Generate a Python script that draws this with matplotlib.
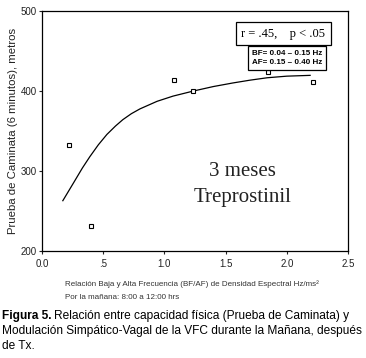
import matplotlib
matplotlib.use('Agg')
import matplotlib.pyplot as plt

# puntos medidos (BF/AF vs prueba de caminata)
bf_af = [0.22, 0.40, 1.08, 1.23, 1.85, 2.21]
caminata = [333, 231, 414, 400, 424, 412]

# curva de ajuste
curva_x = [0.17, 0.26, 0.33, 0.39, 0.46, 0.53, 0.60, 0.66, 0.73, 0.80, 0.94,
           1.07, 1.24, 1.40, 1.56, 1.70, 1.84, 2.00, 2.19]
curva_y = [263, 286, 304, 318, 333, 346, 356.5, 364.5, 372, 378, 387.5,
           394, 400.5, 406, 410.5, 414, 417, 419, 420]

xticks = [0.0, 0.5, 1.0, 1.5, 2.0, 2.5]
xticklabels = ['0.0', '.5', '1.0', '1.5', '2.0', '2.5']
yticks = [200, 300, 400, 500]

plt.rcParams['font.family'] = ['Liberation Sans', 'DejaVu Sans']

fig = plt.figure(figsize=(3.66, 3.58), dpi=100)
ax = fig.add_axes([0.1148, 0.2989, 0.8362, 0.6690])

ax.plot(curva_x, curva_y, color='black', linewidth=0.9)
ax.plot(bf_af, caminata, linestyle='none', marker='s', markersize=3,
        markerfacecolor='white', markeredgecolor='black', markeredgewidth=0.8)

ax.set_xlim(0, 2.5)
ax.set_ylim(200, 500)
ax.set_xticks(xticks)
ax.set_xticklabels(xticklabels)
ax.set_yticks(yticks)
ax.tick_params(axis='both', labelsize=7, length=2, width=0.8, pad=2, colors='#222222')
ax.tick_params(axis='x', pad=4)
for s in ax.spines.values():
    s.set_linewidth(0.9)

ax.set_ylabel('Prueba de Caminata (6 minutos), metros', fontsize=8.2, labelpad=2,
              color='#222222')

# textos dentro del grafico
ax.text(1.64, 299, '3 meses', fontsize=15, family='Liberation Serif',
        ha='center', va='center', color='#222222')
ax.text(1.64, 267, 'Treprostinil', fontsize=15, family='Liberation Serif',
        ha='center', va='center', color='#222222')

ax.text(1.97, 472, 'r = .45,    p < .05', fontsize=9, family='Liberation Serif',
        ha='center', va='center',
        bbox=dict(boxstyle='square,pad=0.45', facecolor='white', edgecolor='black', linewidth=0.9))
ax.text(2.0, 442, 'BF= 0.04 \u2013 0.15 Hz\nAF= 0.15 \u2013 0.40 Hz', fontsize=5.8,
        fontweight='bold', ha='center', va='center', linespacing=1.3,
        bbox=dict(boxstyle='square,pad=0.5', facecolor='white', edgecolor='black', linewidth=0.9))

# leyenda del eje x
fig.text(0.178, 0.207, 'Relación Baja y Alta Frecuencia (BF/AF) de Densidad Espectral Hz/ms\u00b2',
         fontsize=5.8, color='#333333', va='center')
fig.text(0.178, 0.170, 'Por la mañana: 8:00 a 12:00 hrs',
         fontsize=5.8, color='#333333', va='center')

# pie de figura
fs = 8.6
fig.canvas.draw()
r = fig.canvas.get_renderer()
t1 = fig.text(0.006, 0.118, 'Figura 5.', fontsize=fs, fontweight='bold', va='center')
bb = t1.get_window_extent(renderer=r)
fig.text(bb.x1 / fig.bbox.width + 0.006, 0.118,
         'Relación entre capacidad física (Prueba de Caminata) y',
         fontsize=fs, va='center')
fig.text(0.006, 0.076, 'Modulación Simpático-Vagal de la VFC durante la Mañana, después',
         fontsize=fs, va='center')
fig.text(0.006, 0.034, 'de Tx.', fontsize=fs, va='center')

plt.savefig('out.png', dpi=100)
